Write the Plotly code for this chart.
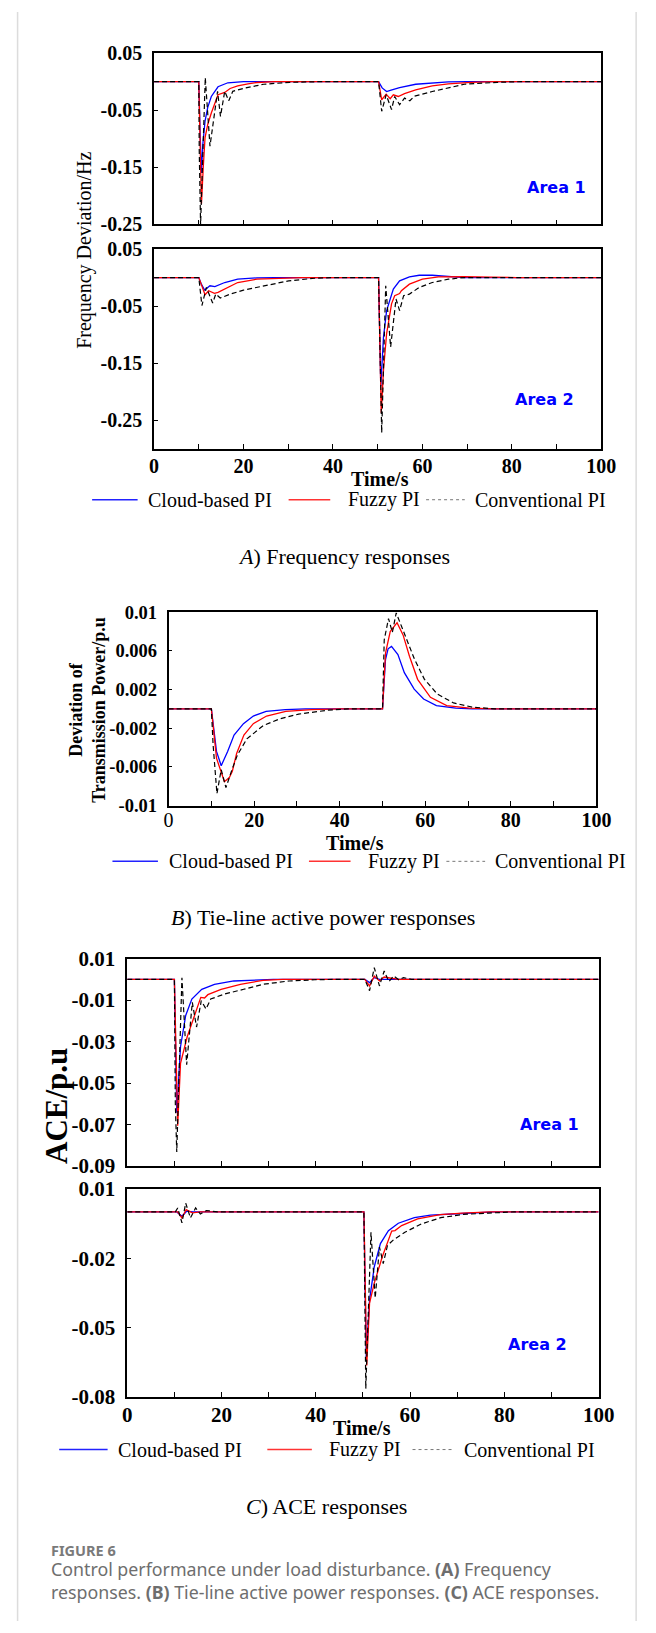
import plotly.graph_objects as go

W, H = 656, 1633

# ---------------- data ----------------
# Panel A: frequency deviation (Hz), Area 1
t_A1_cloud = [0, 10, 10.3, 10.6, 10.9, 11.4, 12, 12.8, 14.3, 16.5, 20, 50.2, 51, 52, 53, 54.9, 58.5, 62.2, 65.8, 70, 100]
f_A1_cloud = [0, 0, -0.09, -0.16, -0.11, -0.069, -0.045, -0.026, -0.009, -0.002, 0, 0, -0.011, -0.0173, -0.015, -0.0104, -0.0046, -0.0023, -0.0006, 0, 0]
t_A1_fuzzy = [0, 10, 10.3, 10.6, 11, 11.4, 12, 12.8, 14.3, 15.2, 15.8, 17, 18.7, 21, 23, 27, 50.2, 50.9, 51.9, 52.8, 53.5, 54.6, 56, 58.5, 62.2, 65.8, 70.9, 76, 100]
f_A1_fuzzy = [0, 0, -0.11, -0.214, -0.15, -0.098, -0.075, -0.055, -0.023, -0.021, -0.019, -0.012, -0.0075, -0.004, -0.0015, 0, 0, -0.0318, -0.022, -0.030, -0.0231, -0.026, -0.021, -0.0144, -0.0075, -0.004, -0.0012, 0, 0]
t_A1_conv = [0, 10, 10.1, 10.4, 11.45, 12.5, 14.2, 14.85, 15.8, 16.7, 17.6, 20.1, 24.5, 30.3, 37.5, 50.2, 50.9, 51.9, 53.1, 53.8, 54.9, 56, 57.2, 58.2, 62.2, 69.4, 76.7, 82, 100]
f_A1_conv = [0, 0, -0.12, -0.251, 0.007, -0.113, -0.017, -0.061, -0.017, -0.0335, -0.017, -0.0116, -0.0046, -0.0012, 0, 0, -0.052, -0.023, -0.049, -0.026, -0.0404, -0.0289, -0.0335, -0.0254, -0.0173, -0.0046, -0.0012, 0, 0]

# Panel A: frequency deviation (Hz), Area 2
t_A2_cloud = [0, 10, 10.6, 11.3, 12.5, 13.6, 15.8, 18.7, 23, 27, 50.2, 50.7, 51.3, 52, 53.5, 54.9, 57.1, 59.3, 62.2, 65.8, 69.4, 100]
f_A2_cloud = [0, 0, -0.012, -0.022, -0.0144, -0.016, -0.0087, -0.0029, -0.0006, 0, 0, -0.19, -0.104, -0.0578, -0.0202, -0.0058, 0.0012, 0.004, 0.004, 0.0017, 0, 0]
t_A2_fuzzy = [0, 10, 10.7, 11.4, 12.2, 13.5, 14.3, 15.8, 18.7, 23, 28.8, 33, 50.2, 50.8, 51.3, 52, 53.1, 53.8, 54.9, 55.3, 57.1, 60, 63.6, 69.4, 75.2, 81, 100]
f_A2_fuzzy = [0, 0, -0.015, -0.030, -0.0231, -0.0277, -0.026, -0.0202, -0.0087, -0.0029, -0.0006, 0, 0, -0.237, -0.162, -0.098, -0.046, -0.0318, -0.028, -0.0231, -0.0116, -0.0029, 0.0012, 0.0017, 0.0006, 0, 0]
t_A2_conv = [0, 10, 10.7, 11.7, 13.1, 13.8, 14.8, 17.1, 20, 24.4, 30.1, 35.9, 40, 50.2, 50.9, 51.8, 52.9, 54.1, 54.9, 55.8, 57.1, 59.3, 62.2, 65.8, 69.4, 100]
f_A2_conv = [0, 0, -0.049, -0.0173, -0.0445, -0.0289, -0.0358, -0.0289, -0.022, -0.0144, -0.0058, -0.0012, 0, 0, -0.2716, -0.0144, -0.1213, -0.0375, -0.0578, -0.0318, -0.029, -0.0173, -0.0087, -0.0029, 0, 0]

# Panel B: tie-line power deviation (p.u)
t_B_cloud = [0, 10, 11.2, 12.3, 13.8, 15.3, 17.5, 19.8, 22.8, 27.3, 32, 50, 50.7, 51.3, 52.1, 53.6, 55.1, 57.4, 59.6, 62.6, 67.1, 71, 100]
p_B_cloud = [0, 0, -0.0044, -0.00587, -0.0044, -0.0027, -0.00153, -0.00074, -0.00027, -0.00007, 0, 0, 0.0051, 0.0062, 0.00645, 0.0056, 0.00374, 0.00204, 0.00102, 0.00034, 0.00007, 0, 0]
t_B_fuzzy = [0, 10, 11.2, 13.05, 14.2, 14.9, 15.9, 17.6, 19.8, 22.9, 27.4, 33.4, 40, 50, 50.7, 51.8, 53.4, 54.8, 56.3, 58.2, 61.2, 65, 70.3, 76, 100]
p_B_fuzzy = [0, 0, -0.0051, -0.00753, -0.0071, -0.00644, -0.0046, -0.0027, -0.00153, -0.00074, -0.00027, -0.00007, 0, 0, 0.00577, 0.00798, 0.0089, 0.00764, 0.00544, 0.00305, 0.00119, 0.00034, 0.00007, 0, 0]
t_B_conv = [0, 10, 10.4, 11.3, 12.3, 13.4, 14.8, 16.1, 18.3, 22.1, 25.9, 30.4, 37.2, 42, 50, 50.4, 51.4, 52.3, 53.2, 55.7, 57.5, 59.8, 62.8, 66.6, 71.1, 76.4, 100]
p_B_conv = [0, 0, -0.0037, -0.00875, -0.00627, -0.00814, -0.0063, -0.00475, -0.0031, -0.00173, -0.00105, -0.00054, -0.00014, 0, 0, 0.00713, 0.00933, 0.0079, 0.00991, 0.00713, 0.0051, 0.00305, 0.00153, 0.00061, 0.00017, 0, 0]

# Panel C: ACE (p.u), Area 1
t_C1_cloud = [0, 10, 10.5, 11.3, 12.4, 13.7, 15.8, 18.5, 22.6, 27.4, 31, 50.4, 51.4, 52.4, 53.5, 60, 100]
a_C1_cloud = [0, 0, -0.0643, -0.0325, -0.0174, -0.0095, -0.0048, -0.0024, -0.0008, -0.0002, 0, 0, -0.0016, 0.0008, 0, 0, 0]
t_C1_fuzzy = [0, 10, 10.7, 11.3, 12.7, 14.4, 15.6, 16.4, 17.1, 19.9, 24, 28.8, 33, 50.4, 51.4, 52.4, 53.5, 54.5, 55.9, 57.5, 100]
a_C1_fuzzy = [0, 0, -0.0706, -0.0405, -0.0278, -0.0167, -0.0087, -0.009, -0.0074, -0.0048, -0.0024, -0.0005, 0, 0, -0.0032, 0.0016, -0.0008, 0.0011, 0.0005, 0, 0]
t_C1_conv = [0, 10, 10.2, 10.5, 11.6, 12.6, 13.8, 14.7, 15.7, 16.7, 17.7, 20.6, 24.7, 28.8, 34.3, 39.8, 45, 50.4, 51.4, 52.4, 53.5, 54.5, 55.5, 56.5, 57.6, 58.6, 60.3, 100]
a_C1_conv = [0, 0, -0.06, -0.0833, 0.0008, -0.0412, -0.0111, -0.023, -0.0103, -0.0143, -0.0095, -0.0071, -0.0048, -0.0024, -0.0008, -0.0002, 0, 0, -0.0055, 0.0056, -0.0032, 0.004, -0.0011, 0.0016, -0.0002, 0.0008, 0, 0]

# Panel C: ACE (p.u), Area 2
t_C2_cloud = [0, 10.5, 11.6, 12.6, 14, 50.2, 50.7, 51.4, 52.4, 53.7, 55.4, 57.5, 60.9, 64.3, 71.1, 78, 100]
a_C2_cloud = [0, 0, -0.0019, 0.0003, 0, 0, -0.0629, -0.038, -0.0237, -0.0137, -0.0081, -0.0049, -0.0025, -0.0014, -0.0007, 0, 0]
t_C2_fuzzy = [0, 10.7, 11.6, 12.5, 13.8, 15.5, 50.2, 50.8, 51.4, 52.4, 54.1, 56.1, 56.8, 58.2, 61.6, 66.4, 71.1, 77, 100]
a_C2_fuzzy = [0, 0, -0.0026, 0.001, -0.0004, 0, 0, -0.0664, -0.0394, -0.0308, -0.0194, -0.0083, -0.0081, -0.0059, -0.003, -0.0012, -0.0005, 0, 0]
t_C2_conv = [0, 10.2, 10.7, 11.6, 12.4, 13.4, 14.5, 15.5, 16.8, 19.2, 50.2, 50.6, 51.7, 52.6, 53.5, 54.3, 55.2, 56.5, 58.9, 62.4, 66.5, 71.3, 76.7, 82, 100]
a_C2_conv = [0, 0, 0.0017, -0.0047, 0.0038, -0.0026, 0.0017, -0.0009, 0.0006, 0, 0, -0.0764, -0.0088, -0.0372, -0.0152, -0.0223, -0.0145, -0.012, -0.0088, -0.0052, -0.0025, -0.0011, -0.0005, 0, 0]

series_names = ["Cloud-based PI", "Fuzzy PI", "Conventional PI"]
x_ticks = [0, 20, 40, 60, 80, 100]
yt_A = [0.05, -0.05, -0.15, -0.25]
yt_B = [0.01, 0.006, 0.002, -0.002, -0.006, -0.01]
yt_C1 = [0.01, -0.01, -0.03, -0.05, -0.07, -0.09]
yt_C2 = [0.01, -0.02, -0.05, -0.08]

# ---------------- helpers ----------------
def px(x):
    return x / W

def py(y):
    return 1 - y / H

SERIF = "Liberation Serif"

fig = go.Figure()

# panel geometry in pixels: (left, right, top, bottom)
panels = {
    "A1": (154, 616, 41.7, 215.5),
    "A2": (154, 616, 240.5, 443.5),
    "B": (169, 611, 609, 805.5),
    "C1": (126.3, 613.3, 960.7, 1171.2),
    "C2": (126.3, 613.3, 1194.3, 1405.7),
}
order = ["A1", "A2", "B", "C1", "C2"]
yranges = {"A1": [-0.25, 0.05], "A2": [-0.30, 0.05], "B": [-0.01, 0.01],
           "C1": [-0.09, 0.01], "C2": [-0.08, 0.01]}
yticks = {"A1": yt_A, "A2": yt_A, "B": yt_B, "C1": yt_C1, "C2": yt_C2}
ytext = {"A1": ["0.05", "-0.05", "-0.15", "-0.25"], "A2": ["0.05", "-0.05", "-0.15", "-0.25"],
         "B": ["0.01", "0.006", "0.002", "-0.002", "-0.006", "-0.01"],
         "C1": ["0.01", "-0.01", "-0.03", "-0.05", "-0.07", "-0.09"],
         "C2": ["0.01", "-0.02", "-0.05", "-0.08"]}
ysize = {"A1": 20, "A2": 20, "B": 18.5, "C1": 21, "C2": 21}
xlabels = {"A1": False, "A2": True, "B": True, "C1": False, "C2": True}
xsize = {"A1": 20, "A2": 20, "B": 20, "C1": 21, "C2": 21}
# panel B shows its "0" label in regular weight, the rest bold
xtext = {k: [str(v) for v in x_ticks] for k in order}
xtext["B"] = ["0"] + ["<b>%d</b>" % v for v in x_ticks[1:]]
xweight = {"A1": "bold", "A2": "bold", "B": "normal", "C1": "bold", "C2": "bold"}
xstand = {"A1": -2, "A2": -2, "B": -4, "C1": -2, "C2": -2}

data = {
    "A1": [(t_A1_cloud, f_A1_cloud), (t_A1_fuzzy, f_A1_fuzzy), (t_A1_conv, f_A1_conv)],
    "A2": [(t_A2_cloud, f_A2_cloud), (t_A2_fuzzy, f_A2_fuzzy), (t_A2_conv, f_A2_conv)],
    "B": [(t_B_cloud, p_B_cloud), (t_B_fuzzy, p_B_fuzzy), (t_B_conv, p_B_conv)],
    "C1": [(t_C1_cloud, a_C1_cloud), (t_C1_fuzzy, a_C1_fuzzy), (t_C1_conv, a_C1_conv)],
    "C2": [(t_C2_cloud, a_C2_cloud), (t_C2_fuzzy, a_C2_fuzzy), (t_C2_conv, a_C2_conv)],
}
styles = [dict(color="#0000FF", width=1.3, dash="solid"),
          dict(color="#FF0000", width=1.3, dash="solid"),
          dict(color="#000000", width=1.2, dash="5px,3px")]

layout_axes = {}
for i, key in enumerate(order):
    n = "" if i == 0 else str(i + 1)
    l, r, t, b = panels[key]
    xa = dict(domain=[px(l), px(r)], range=[0, 100], anchor="y" + n,
              showgrid=False, zeroline=False, showline=True, mirror=True,
              linecolor="black", linewidth=1.6,
              ticks="inside", ticklen=5, tickcolor="black", tickwidth=1,
              tickvals=x_ticks, ticktext=xtext[key],
              showticklabels=xlabels[key], ticklabelstandoff=xstand[key],
              tickfont=dict(family=SERIF, size=xsize[key], color="black", weight=xweight[key]),
              minor=dict(dtick=10, tick0=0, ticks="inside", ticklen=5, tickcolor="black", tickwidth=1))
    ya = dict(domain=[py(b), py(t)], range=yranges[key], anchor="x" + n,
              showgrid=False, zeroline=False, showline=True, mirror=True,
              linecolor="black", linewidth=1.6,
              ticks="inside", ticklen=4, tickcolor="black", tickwidth=1,
              tickvals=yticks[key], ticktext=ytext[key], ticklabelstandoff=6,
              tickfont=dict(family=SERIF, size=ysize[key], color="black", weight="bold"))
    layout_axes["xaxis" + n] = xa
    layout_axes["yaxis" + n] = ya
    for (tx, vy), st, name in zip(data[key], styles, series_names):
        fig.add_trace(go.Scatter(x=tx, y=vy, mode="lines", name=name, line=st,
                                 xaxis="x" + n, yaxis="y" + n, showlegend=False,
                                 hoverinfo="skip"))

fig.update_layout(**layout_axes)

ann = []
shapes = []

def text(x, y, s, size=20, family=SERIF, color="black", weight="normal", xanchor="center",
         textangle=0, yanchor="middle"):
    ann.append(dict(x=px(x), y=py(y), xref="paper", yref="paper", text=s, showarrow=False,
                    xanchor=xanchor, yanchor=yanchor, textangle=textangle,
                    font=dict(family=family, size=size, color=color, weight=weight)))

# Area labels
AREA_FONT = "DejaVu Sans"
text(569.5, 178.3, "Area 1", 16, AREA_FONT, "#0000FF", "bold")
text(557, 393.3, "Area 2", 16, AREA_FONT, "#0000FF", "bold")
text(563, 1129.3, "Area 1", 16, AREA_FONT, "#0000FF", "bold")
text(550, 1352.7, "Area 2", 16, AREA_FONT, "#0000FF", "bold")

# axis titles
text(82, 242, "Frequency Deviation/Hz", 20, SERIF, textangle=-90)
text(85, 708, "Deviation of<br>Transmission Power/p.u", 18, SERIF, weight="bold", textangle=-90)
text(53, 1110, "ACE/p.u", 31, SERIF, weight="bold", textangle=-90)
text(387.5, 474, "Time/s", 20, SERIF, weight="bold")
text(362, 843, "Time/s", 20, SERIF, weight="bold")
text(368.75, 1437, "Time/s", 20, SERIF, weight="bold")

# legends (line samples + labels)
def legend(y, segs, labels):
    cols = [dict(color="#2222FF", width=1.5), dict(color="#FF3333", width=1.5),
            dict(color="#777777", width=1, dash="dot")]
    for (x0, x1), lx, st, lab in zip(segs, labels, cols, series_names):
        shapes.append(dict(type="line", xref="paper", yref="paper", x0=px(x0), x1=px(x1),
                           y0=py(y), y1=py(y), line=st))
        text(lx, y, lab, 20, SERIF, xanchor="left")

legend(495, [(90, 137), (293, 336), (435, 475)], [146, 352, 483])
legend(862, [(111, 158), (314, 357), (456, 496)], [167, 373, 504])
legend(1459, [(56, 106), (271, 317), (421, 462)], [115, 332.5, 472])

# panel captions
text(350, 553, "<i>A</i>) Frequency responses", 22, SERIF)
text(328, 919.5, "<i>B</i>) Tie-line active power responses", 22, SERIF)
text(332, 1516.7, "<i>C</i>) ACE responses", 22, SERIF)

# figure caption
CAP = "Noto Sans"
text(45, 1561, "FIGURE 6", 14.5, CAP, "#7a7a7a", "bold", xanchor="left")
text(45, 1580, "Control performance under load disturbance. <b>(A)</b> Frequency", 17.8, CAP, "#6e6e6e", xanchor="left")
text(45, 1604, "responses. <b>(B)</b> Tie-line active power responses. <b>(C)</b> ACE responses.", 17.8, CAP, "#6e6e6e", xanchor="left")

# page border lines
for xb in (13, 652):
    shapes.append(dict(type="line", xref="paper", yref="paper", x0=px(xb), x1=px(xb),
                       y0=0, y1=1, line=dict(color="#dcdcdc", width=1.5)))

fig.update_layout(width=W, height=H, margin=dict(l=0, r=0, t=0, b=0),
                  paper_bgcolor="white", plot_bgcolor="white", showlegend=False,
                  annotations=ann, shapes=shapes)

fig.write_html("out.html")
